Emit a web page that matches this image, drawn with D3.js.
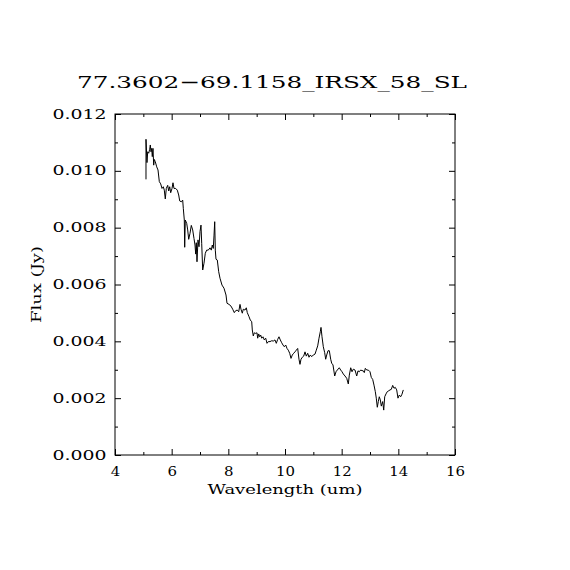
<!DOCTYPE html>
<meta charset="utf-8">
<style>
body { margin: 0; background: #fff; }
text { fill: #000; font-family: "DejaVu Serif", "Liberation Serif", serif; }
.axis path { display: none; }
.axis line { stroke: #000; stroke-width: 1; }
.axis text { font-size: 12.5px; font-family: "DejaVu Serif", serif; }
.frame { fill: none; stroke: #000; stroke-width: 1; }
.spec { fill: none; stroke: #000; stroke-width: 1; }
</style>
<svg width="570" height="570"></svg>
<script src="https://d3js.org/d3.v7.min.js"></script>
<script>

// spectrum
var wavelength = [5.094, 5.094, 5.129, 5.154, 5.189, 5.225, 5.246, 5.271, 5.295, 5.316,
  5.341, 5.366, 5.387, 5.422, 5.472, 5.518, 5.564, 5.613, 5.659, 5.705,
  5.740, 5.775, 5.811, 5.860, 5.895, 5.931, 5.966, 6.012, 6.047, 6.082,
  6.142, 6.199, 6.248, 6.284, 6.340, 6.389, 6.411, 6.446, 6.460, 6.481,
  6.531, 6.566, 6.601, 6.647, 6.693, 6.742, 6.788, 6.824, 6.848, 6.869,
  6.894, 6.929, 6.965, 7.000, 7.035, 7.060, 7.095, 7.141, 7.187, 7.236,
  7.293, 7.353, 7.399, 7.434, 7.469, 7.494, 7.519, 7.540, 7.565, 7.611,
  7.660, 7.706, 7.776, 7.847, 7.918, 7.953, 8.024, 8.094, 8.154, 8.211,
  8.260, 8.316, 8.366, 8.412, 8.447, 8.493, 8.528, 8.588, 8.634, 8.669,
  8.729, 8.775, 8.825, 8.846, 8.881, 8.916, 8.966, 9.012, 9.036, 9.072,
  9.107, 9.142, 9.178, 9.224, 9.269, 9.319, 9.365, 9.411, 9.471, 9.531,
  9.587, 9.647, 9.693, 9.742, 9.788, 9.834, 9.884, 9.929, 9.975, 10.025,
  10.071, 10.116, 10.166, 10.212, 10.258, 10.307, 10.353, 10.399, 10.448, 10.494,
  10.529, 10.565, 10.611, 10.660, 10.706, 10.752, 10.801, 10.847, 10.893, 10.942,
  10.999, 11.059, 11.105, 11.154, 11.200, 11.246, 11.271, 11.306, 11.352, 11.401,
  11.436, 11.472, 11.518, 11.564, 11.613, 11.648, 11.694, 11.754, 11.800, 11.846,
  11.916, 11.966, 12.012, 12.058, 12.118, 12.178, 12.234, 12.270, 12.319, 12.365,
  12.411, 12.471, 12.531, 12.576, 12.622, 12.672, 12.718, 12.764, 12.799, 12.834,
  12.884, 12.940, 13.000, 13.046, 13.095, 13.141, 13.187, 13.222, 13.258, 13.293,
  13.328, 13.364, 13.399, 13.448, 13.484, 13.519, 13.565, 13.611, 13.660, 13.706,
  13.752, 13.801, 13.847, 13.893, 13.942, 13.988, 14.034, 14.084, 14.129, 14.175];

var flux = [0.00970, 0.01111, 0.01029, 0.01067, 0.01062, 0.01076, 0.01091, 0.01067, 0.01079, 0.01050,
  0.01079, 0.01020, 0.01040, 0.01032, 0.01014, 0.01003, 0.00962, 0.00954, 0.00938, 0.00944,
  0.00932, 0.00901, 0.00938, 0.00949, 0.00929, 0.00944, 0.00923, 0.00938, 0.00958, 0.00938,
  0.00938, 0.00932, 0.00915, 0.00894, 0.00891, 0.00897, 0.00868, 0.00827, 0.00731, 0.00827,
  0.00815, 0.00792, 0.00759, 0.00780, 0.00808, 0.00792, 0.00762, 0.00739, 0.00707, 0.00747,
  0.00680, 0.00757, 0.00733, 0.00786, 0.00809, 0.00745, 0.00651, 0.00675, 0.00710, 0.00721,
  0.00721, 0.00729, 0.00721, 0.00739, 0.00727, 0.00771, 0.00821, 0.00721, 0.00689, 0.00686,
  0.00645, 0.00622, 0.00598, 0.00587, 0.00563, 0.00534, 0.00530, 0.00524, 0.00513, 0.00501,
  0.00508, 0.00510, 0.00504, 0.00530, 0.00513, 0.00499, 0.00513, 0.00510, 0.00518, 0.00501,
  0.00487, 0.00475, 0.00469, 0.00440, 0.00419, 0.00430, 0.00428, 0.00430, 0.00411, 0.00426,
  0.00416, 0.00422, 0.00411, 0.00416, 0.00405, 0.00411, 0.00393, 0.00399, 0.00399, 0.00402,
  0.00401, 0.00405, 0.00393, 0.00407, 0.00416, 0.00405, 0.00395, 0.00387, 0.00381, 0.00387,
  0.00375, 0.00369, 0.00358, 0.00340, 0.00352, 0.00358, 0.00363, 0.00369, 0.00375, 0.00337,
  0.00319, 0.00337, 0.00344, 0.00348, 0.00363, 0.00348, 0.00358, 0.00344, 0.00352, 0.00346,
  0.00352, 0.00355, 0.00369, 0.00384, 0.00411, 0.00434, 0.00449, 0.00416, 0.00381, 0.00360,
  0.00337, 0.00352, 0.00367, 0.00367, 0.00337, 0.00323, 0.00317, 0.00278, 0.00293, 0.00299,
  0.00307, 0.00299, 0.00293, 0.00285, 0.00278, 0.00270, 0.00250, 0.00281, 0.00307, 0.00293,
  0.00302, 0.00299, 0.00278, 0.00296, 0.00293, 0.00299, 0.00297, 0.00296, 0.00290, 0.00305,
  0.00299, 0.00299, 0.00293, 0.00273, 0.00266, 0.00246, 0.00223, 0.00200, 0.00168, 0.00188,
  0.00205, 0.00194, 0.00172, 0.00188, 0.00158, 0.00205, 0.00215, 0.00223, 0.00226, 0.00229,
  0.00231, 0.00245, 0.00235, 0.00238, 0.00229, 0.00200, 0.00211, 0.00205, 0.00214, 0.00229];

var xMajor = [4, 6, 8, 10, 12, 14, 16],
    xMinor = [5, 7, 9, 11, 13, 15],
    yMajor = [0, 0.002, 0.004, 0.006, 0.008, 0.010, 0.012],
    yMinor = [0.001, 0.003, 0.005, 0.007, 0.009, 0.011];

var title = "77.3602\u221269.1158_IRSX_58_SL",
    xTitle = "Wavelength (um)",
    yTitle = "Flux (Jy)";

var svg = d3.select("svg"),
    margin = {top: 114, right: 115, bottom: 115, left: 115},
    width = +svg.attr("width") - margin.left - margin.right,
    height = +svg.attr("height") - margin.top - margin.bottom;

var x = d3.scaleLinear().domain([4, 16]).range([0, width]),
    y = d3.scaleLinear().domain([0, 0.012]).range([height, 0]);

var g = svg.append("g")
    .attr("transform", "translate(" + margin.left + "," + margin.top + ")");

// ticks point inward on all four sides
function ticks(axis, vals, size, fmt) {
  return axis.tickValues(vals).tickSizeInner(-size).tickSizeOuter(0).tickFormat(fmt || "");
}

// wide glyphs, like the plotting font of the original
function stretch(sel, w) {
  sel.attr("textLength", w).attr("lengthAdjust", "spacingAndGlyphs");
}

g.append("g").attr("class", "axis")
    .attr("transform", "translate(0," + height + ")")
    .call(ticks(d3.axisBottom(x), xMajor, 6, d3.format("d")).tickPadding(12.5))
  .selectAll("text")
    .call(stretch, function(d) { return String(d).length * 9.5; });
g.append("g").attr("class", "axis")
    .attr("transform", "translate(0," + height + ")")
    .call(ticks(d3.axisBottom(x), xMinor, 3));
g.append("g").attr("class", "axis")
    .call(ticks(d3.axisTop(x), xMajor, 6));
g.append("g").attr("class", "axis")
    .call(ticks(d3.axisTop(x), xMinor, 3));

g.append("g").attr("class", "axis")
    .call(ticks(d3.axisLeft(y), yMajor, 6, d3.format(".3f")).tickPadding(8.5))
  .selectAll("text")
    .call(stretch, 54);
g.append("g").attr("class", "axis")
    .call(ticks(d3.axisLeft(y), yMinor, 3));
g.append("g").attr("class", "axis")
    .attr("transform", "translate(" + width + ",0)")
    .call(ticks(d3.axisRight(y), yMajor, 6));
g.append("g").attr("class", "axis")
    .attr("transform", "translate(" + width + ",0)")
    .call(ticks(d3.axisRight(y), yMinor, 3));

g.append("rect")
    .attr("class", "frame")
    .attr("width", width)
    .attr("height", height);

var line = d3.line()
    .x(function(d, i) { return x(wavelength[i]); })
    .y(function(d) { return y(d); });

g.append("path")
    .datum(flux)
    .attr("class", "spec")
    .attr("d", line);

// titles
svg.append("text")
    .attr("x", 272)
    .attr("y", 87.5)
    .attr("text-anchor", "middle")
    .style("font-size", "17.5px")
    .text(title)
    .call(stretch, 390);

svg.append("text")
    .attr("x", margin.left + width / 2)
    .attr("y", 494)
    .attr("text-anchor", "middle")
    .style("font-size", "13px")
    .text(xTitle)
    .call(stretch, 155);

svg.append("text")
    .attr("transform", "translate(40.5," + (margin.top + height / 2) + ") rotate(-90)")
    .attr("text-anchor", "middle")
    .style("font-size", "13px")
    .text(yTitle)
    .call(stretch, 77);

</script>
